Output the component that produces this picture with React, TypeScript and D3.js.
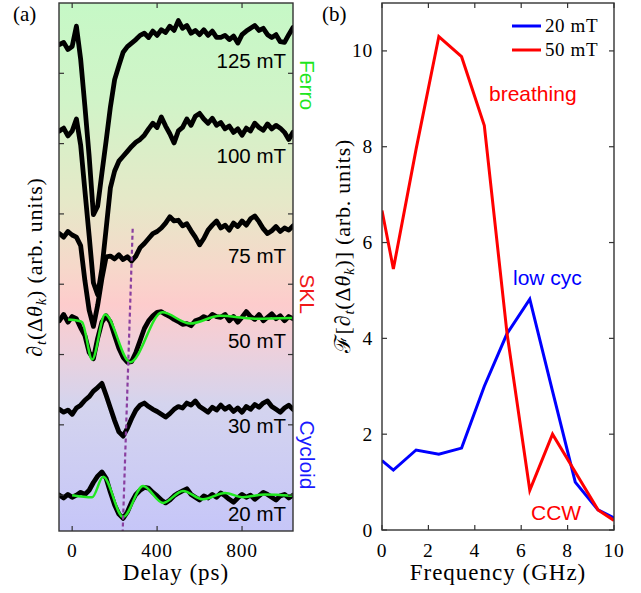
import * as d3 from 'd3';

// ---- panel (a): time traces, sampled every 20 ps ----
const delays = [-60, -40, -20, 0, 20, 40, 60, 80, 100, 120, 140, 160, 180, 200, 220, 240, 260, 280, 300, 320, 340, 360, 380, 400, 420, 440, 460, 480, 500, 520, 540, 560, 580, 600, 620, 640, 660, 680, 700, 720, 740, 760, 780, 800, 820, 840, 860, 880, 900, 920, 940, 960, 980, 1000, 1020, 1040];

const fieldLabels = ['125 mT', '100 mT', '75 mT', '50 mT', '30 mT', '20 mT'];

const trace125 = [6.41, 6.44, 6.34, 6.38, 6.67, 6.20, 5.53, 4.82, 3.99, 4.11, 4.58, 5.04, 5.52, 5.91, 6.11, 6.30, 6.38, 6.43, 6.48, 6.54, 6.57, 6.51, 6.60, 6.54, 6.62, 6.58, 6.67, 6.61, 6.75, 6.64, 6.68, 6.57, 6.61, 6.55, 6.62, 6.54, 6.60, 6.51, 6.51, 6.54, 6.48, 6.53, 6.43, 6.55, 6.60, 6.64, 6.68, 6.61, 6.64, 6.55, 6.51, 6.55, 6.45, 6.44, 6.55, 6.65];
const trace100 = [5.18, 5.22, 5.11, 5.18, 5.35, 4.98, 4.33, 3.69, 3.02, 2.85, 3.22, 3.79, 4.37, 4.61, 4.75, 4.82, 4.89, 4.96, 5.02, 5.06, 5.12, 5.21, 5.29, 5.23, 5.38, 5.25, 5.14, 5.01, 5.18, 5.23, 5.35, 5.26, 5.39, 5.43, 5.35, 5.29, 5.36, 5.26, 5.30, 5.21, 5.25, 5.16, 5.21, 5.12, 5.22, 5.18, 5.29, 5.23, 5.19, 5.28, 5.21, 5.26, 5.22, 5.16, 5.06, 5.16];
const trace75 = [3.72, 3.67, 3.75, 3.70, 3.67, 3.55, 3.05, 2.63, 2.40, 2.70, 3.08, 3.39, 3.40, 3.36, 3.42, 3.35, 3.39, 3.33, 3.40, 3.52, 3.58, 3.65, 3.72, 3.75, 3.80, 3.87, 3.96, 3.90, 3.91, 3.83, 3.86, 3.76, 3.67, 3.56, 3.65, 3.77, 3.84, 3.90, 3.80, 3.84, 3.77, 3.87, 3.82, 3.90, 3.84, 3.93, 3.97, 3.89, 3.79, 3.72, 3.76, 3.82, 3.75, 3.80, 3.77, 3.83];
const trace50 = [2.48, 2.57, 2.46, 2.54, 2.51, 2.38, 2.27, 2.03, 1.94, 2.23, 2.46, 2.55, 2.46, 2.27, 2.09, 1.96, 1.89, 1.90, 2.03, 2.20, 2.37, 2.48, 2.55, 2.60, 2.61, 2.57, 2.54, 2.50, 2.47, 2.43, 2.44, 2.41, 2.48, 2.50, 2.54, 2.51, 2.57, 2.54, 2.53, 2.57, 2.48, 2.54, 2.46, 2.53, 2.61, 2.54, 2.50, 2.57, 2.48, 2.53, 2.58, 2.51, 2.55, 2.48, 2.54, 2.51];
const trace30 = [1.22, 1.18, 1.21, 1.15, 1.24, 1.28, 1.35, 1.40, 1.48, 1.53, 1.59, 1.42, 1.24, 1.06, 0.90, 0.84, 0.95, 1.09, 1.21, 1.28, 1.31, 1.26, 1.22, 1.19, 1.15, 1.11, 1.16, 1.22, 1.26, 1.24, 1.31, 1.28, 1.34, 1.26, 1.22, 1.18, 1.25, 1.21, 1.28, 1.22, 1.26, 1.19, 1.24, 1.18, 1.26, 1.22, 1.29, 1.25, 1.31, 1.34, 1.26, 1.22, 1.18, 1.24, 1.28, 1.22];
const trace20 = [0.00, -0.04, 0.01, -0.03, 0.00, 0.04, 0.01, 0.07, 0.18, 0.27, 0.33, 0.24, 0.04, -0.14, -0.27, -0.33, -0.24, -0.10, 0.01, 0.07, 0.11, 0.10, 0.04, -0.01, -0.07, -0.11, -0.07, -0.01, 0.03, 0.06, 0.09, 0.01, -0.03, -0.07, -0.01, -0.04, 0.01, -0.03, 0.03, -0.01, -0.06, -0.10, -0.04, 0.01, -0.03, 0.00, -0.06, -0.01, 0.04, 0.01, -0.03, -0.07, -0.01, 0.01, -0.04, 0.00];
const traces = [trace125, trace100, trace75, trace50, trace30, trace20];

// damped-oscillation fits (green)
const fit50Delay = [-19, 28, 47, 94, 155, 273, 424, 555, 696, 861, 1035];
const fit50Value = [2.50, 2.48, 2.46, 1.93, 2.57, 1.89, 2.60, 2.44, 2.55, 2.51, 2.52];
const fit20Delay = [0, 94, 146, 240, 334, 428, 522, 616, 720, 805, 908, 1035];
const fit20Value = [0, -0.03, 0.26, -0.31, 0.13, -0.11, 0.06, -0.06, 0.03, -0.03, 0.01, -0.01];

// dotted guide through the minima
const guideDelay = [285, 238];
const guideValue = [3.79, -0.51];

const phases = ['Ferro', 'SKL', 'Cycloid'];
const delayTicks = [0, 400, 800];
const signalTicks = [0, 1, 2, 3, 4, 5, 6];

// ---- panel (b): spectra ----
const freqs = [0, 0.49, 1.47, 2.45, 3.43, 4.41, 5.39, 6.37, 7.35, 8.33, 9.31, 10];
const amp20 = [1.45, 1.25, 1.67, 1.58, 1.71, 3.0, 4.1, 4.82, 2.9, 1.0, 0.42, 0.25];
const amp50 = [6.67, 5.45, 7.95, 10.3, 9.88, 8.44, 4.1, 0.83, 2.0, 1.21, 0.42, 0.2];
const seriesNames = ['20 mT', '50 mT'];
const freqTicks = [0, 2, 4, 6, 8, 10];
const ampTicks = [0, 2, 4, 6, 8, 10];

const SERIF = '"Liberation Serif", "Times New Roman", serif';
const SANS = '"Liberation Sans", Arial, sans-serif';
const FRAME = '#333';

const xA = d3.scaleLinear().domain([-62, 1040]).range([59, 293]);
const yA = d3.scaleLinear().domain([-0.51, 7]).range([531, 3]);
const xB = d3.scaleLinear().domain([0, 10]).range([382, 614]);
const yB = d3.scaleLinear().domain([0, 11]).range([530, 3]);

export default function App() {
  const traceLine = d3.line<number>()
    .x((_, i) => xA(delays[i]))
    .y(d => yA(d));

  const fitLine = (ds: number[], vs: number[]) =>
    d3.line<number>().x((_, i) => xA(ds[i])).y(d => yA(d)).curve(d3.curveMonotoneX)(vs) || '';

  const specLine = d3.line<number>().x((_, i) => xB(freqs[i])).y(d => yB(d));

  const [a0, a1] = xA.range();
  const [aB, aT] = yA.range();
  const [b0, b1] = xB.range();
  const [bB, bT] = yB.range();

  const labelPos = [
    { x: 286, y: 68 }, { x: 286, y: 163 }, { x: 286, y: 263 },
    { x: 286, y: 348 }, { x: 286, y: 433 }, { x: 286, y: 521 },
  ];
  const phasePos = [
    { y: 85, c: '#1ee61e' }, { y: 294, c: '#f01818' }, { y: 455, c: '#1a1aff' },
  ];

  return (
    <svg width={641} height={593} style={{ position: 'absolute', left: 0, top: 0, background: '#fff' }}>
      <defs>
        <linearGradient id="bg" gradientUnits="userSpaceOnUse" x1={0} y1={aT} x2={0} y2={aB}>
          <stop offset="0" stopColor="#c6f8c6" />
          <stop offset="0.18" stopColor="#d0f4c8" />
          <stop offset="0.38" stopColor="#e6e8c8" />
          <stop offset="0.5" stopColor="#f6d8ca" />
          <stop offset="0.57" stopColor="#fdcccc" />
          <stop offset="0.66" stopColor="#ecd0dc" />
          <stop offset="0.76" stopColor="#d4d4ee" />
          <stop offset="1" stopColor="#c6c6f8" />
        </linearGradient>
        <clipPath id="clipA">
          <rect x={a0} y={aT} width={a1 - a0} height={aB - aT} />
        </clipPath>
        <clipPath id="clipB">
          <rect x={b0} y={bT} width={b1 - b0} height={bB - bT} />
        </clipPath>
      </defs>

      {/* ---------- panel (a) ---------- */}
      <rect x={a0} y={aT} width={a1 - a0} height={aB - aT} fill="url(#bg)" />
      <g clipPath="url(#clipA)">
        {traces.map((t, i) => (
          <path key={i} d={traceLine(t) || ''} fill="none" stroke="#000" strokeWidth={4.8}
            strokeLinejoin="round" strokeLinecap="round" />
        ))}
        <path d={fitLine(fit50Delay, fit50Value)} fill="none" stroke="#22e822" strokeWidth={2.5} />
        <path d={fitLine(fit20Delay, fit20Value)} fill="none" stroke="#22e822" strokeWidth={2.5} />
        <line x1={xA(guideDelay[0])} y1={yA(guideValue[0])} x2={xA(guideDelay[1])} y2={yA(guideValue[1])}
          stroke="#8a3fa0" strokeWidth={2.2} strokeDasharray="4 3" />
      </g>
      {fieldLabels.map((l, i) => (
        <text key={l} x={labelPos[i].x} y={labelPos[i].y} textAnchor="end" fontFamily={SANS} fontSize={20.5}>{l}</text>
      ))}
      {phases.map((p, i) => (
        <text key={p} transform={`translate(300,${phasePos[i].y}) rotate(90)`} textAnchor="middle"
          fontFamily={SANS} fontSize={21} fill={phasePos[i].c}>{p}</text>
      ))}
      <rect x={a0} y={aT} width={a1 - a0} height={aB - aT} fill="none" stroke={FRAME} strokeWidth={1.4} />
      {delayTicks.map(t => (
        <g key={t}>
          <line x1={xA(t)} x2={xA(t)} y1={aB} y2={aB - 5} stroke={FRAME} strokeWidth={1.2} />
          <line x1={xA(t)} x2={xA(t)} y1={aT} y2={aT + 5} stroke={FRAME} strokeWidth={1.2} />
          <text x={xA(t)} y={557} textAnchor="middle" fontFamily={SERIF} fontSize={19.5} letterSpacing={0.8}>{t}</text>
        </g>
      ))}
      {signalTicks.map(t => (
        <g key={t}>
          <line x1={a0} x2={a0 + 5} y1={yA(t)} y2={yA(t)} stroke={FRAME} strokeWidth={1.2} />
          <line x1={a1} x2={a1 - 5} y1={yA(t)} y2={yA(t)} stroke={FRAME} strokeWidth={1.2} />
        </g>
      ))}
      <text x={(a0 + a1) / 2} y={580} textAnchor="middle" fontFamily={SERIF} fontSize={23} letterSpacing={1}>Delay (ps)</text>
      <text transform={`translate(42,${(aT + aB) / 2}) rotate(-90)`} textAnchor="middle" fontFamily={SERIF} fontSize={22} letterSpacing={0.8}>
        ∂<tspan fontStyle="italic" fontSize={15} dy={4}>t</tspan><tspan dy={-4}>(Δ</tspan><tspan fontStyle="italic">θ</tspan><tspan fontStyle="italic" fontSize={15} dy={4}>k</tspan><tspan dy={-4}>) (arb. units)</tspan>
      </text>
      <text x={13} y={21} fontFamily={SERIF} fontSize={21}>(a)</text>

      {/* ---------- panel (b) ---------- */}
      <g clipPath="url(#clipB)">
        <path d={specLine(amp20) || ''} fill="none" stroke="#0000ff" strokeWidth={3} strokeLinejoin="miter" />
        <path d={specLine(amp50) || ''} fill="none" stroke="#ff0000" strokeWidth={3} strokeLinejoin="miter" />
      </g>
      <rect x={b0} y={bT} width={b1 - b0} height={bB - bT} fill="none" stroke={FRAME} strokeWidth={1.4} />
      {freqTicks.map(t => (
        <g key={t}>
          <line x1={xB(t)} x2={xB(t)} y1={bB} y2={bB - 5} stroke={FRAME} strokeWidth={1.2} />
          <line x1={xB(t)} x2={xB(t)} y1={bT} y2={bT + 5} stroke={FRAME} strokeWidth={1.2} />
          <text x={xB(t)} y={557} textAnchor="middle" fontFamily={SERIF} fontSize={19.5} letterSpacing={0.8}>{t}</text>
        </g>
      ))}
      {ampTicks.map(t => (
        <g key={t}>
          <line x1={b0} x2={b0 + 5} y1={yB(t)} y2={yB(t)} stroke={FRAME} strokeWidth={1.2} />
          <line x1={b1} x2={b1 - 5} y1={yB(t)} y2={yB(t)} stroke={FRAME} strokeWidth={1.2} />
          <text x={373} y={yB(t) + 6.5} textAnchor="end" fontFamily={SERIF} fontSize={19.5} letterSpacing={0.8}>{t}</text>
        </g>
      ))}
      <text x={(b0 + b1) / 2} y={580} textAnchor="middle" fontFamily={SERIF} fontSize={23} letterSpacing={1}>Frequency (GHz)</text>
      <text transform={`translate(350,246) rotate(-90)`} textAnchor="middle" fontFamily={SERIF} fontSize={22} letterSpacing={0.8}>
        ℱ[∂<tspan fontStyle="italic" fontSize={15} dy={4}>t</tspan><tspan dy={-4}>(Δ</tspan><tspan fontStyle="italic">θ</tspan><tspan fontStyle="italic" fontSize={15} dy={4}>k</tspan><tspan dy={-4}>)] (arb. units)</tspan>
      </text>
      <text x={322} y={21} fontFamily={SERIF} fontSize={21}>(b)</text>

      {/* legend */}
      {seriesNames.map((n, i) => (
        <g key={n}>
          <line x1={512} x2={541} y1={26 + i * 24} y2={26 + i * 24} stroke={i === 0 ? '#0000ff' : '#ff0000'} strokeWidth={3} />
          <text x={545} y={32 + i * 24} fontFamily={SERIF} fontSize={19} letterSpacing={0.6}>{n}</text>
        </g>
      ))}
      <text x={489} y={101} fontFamily={SANS} fontSize={21} fill="#ff0000">breathing</text>
      <text x={513} y={285} fontFamily={SANS} fontSize={21} fill="#0000ff">low cyc</text>
      <text x={531} y={520} fontFamily={SANS} fontSize={21} fill="#ff0000">CCW</text>
    </svg>
  );
}
